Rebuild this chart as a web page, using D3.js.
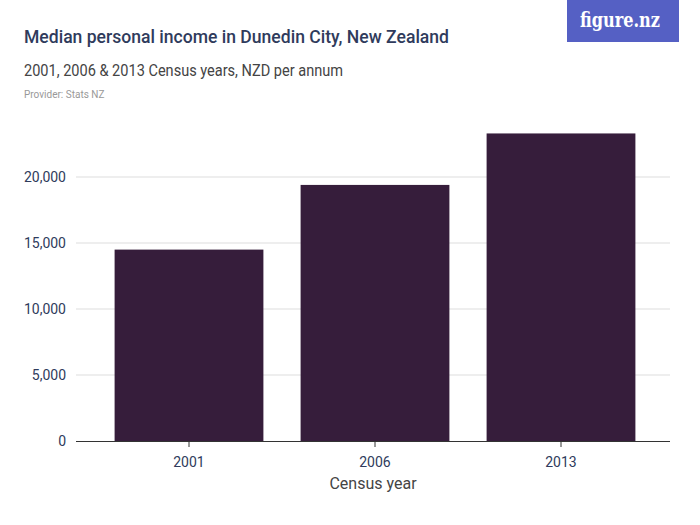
<!DOCTYPE html><html><head><meta charset="utf-8">
<script src="https://cdn.jsdelivr.net/npm/d3@7"></script>
<style>body{margin:0;background:#fff}text{font-family:"Roboto","Liberation Sans",sans-serif}</style></head><body>
<svg id="c" width="700" height="525"></svg>
<script>
const categories=["2001","2006","2013"];
const values=[14500,19400,23300];
const yTicks=[0,5000,10000,15000,20000];
const svg=d3.select("#c");
const m={l:76,r:670,t:110,b:441};
const x=d3.scaleBand().domain(categories).range([96,654]).paddingInner(0.2).paddingOuter(0.1);
const y=d3.scaleLinear().domain([0,20000]).range([441,177]);
svg.append("rect").attr("x",567).attr("y",0).attr("width",112).attr("height",42).attr("fill","#5560c4");
svg.append("text").attr("x",620).attr("y",27).attr("text-anchor","middle").attr("fill","#fff").attr("font-size",20).attr("font-weight","bold").style("font-family","DejaVu Serif, serif").attr("textLength",80).attr("lengthAdjust","spacingAndGlyphs").text("figure.nz");
svg.append("text").attr("x",24).attr("y",43).attr("fill","#2f3b5c").attr("font-size",19).attr("font-weight","500").attr("textLength",425).attr("lengthAdjust","spacingAndGlyphs").text("Median personal income in Dunedin City, New Zealand");
svg.append("text").attr("x",24).attr("y",76).attr("fill","#444").attr("font-size",16).attr("textLength",319).attr("lengthAdjust","spacingAndGlyphs").text("2001, 2006 & 2013 Census years, NZD per annum");
svg.append("text").attr("x",24).attr("y",98).attr("fill","#999").attr("font-size",10).text("Provider: Stats NZ");
yTicks.forEach(t=>{
  if(t>0) svg.append("line").attr("x1",m.l).attr("x2",m.r).attr("y1",y(t)).attr("y2",y(t)).attr("stroke","#ddd");
  svg.append("text").attr("x",66).attr("y",y(t)+5).attr("text-anchor","end").attr("fill","#2f3b5c").attr("font-size",14).text(d3.format(",")(t));
});
svg.selectAll(".bar").data(values).join("rect").attr("x",(d,i)=>x(categories[i])).attr("width",x.bandwidth()).attr("y",d=>y(d)).attr("height",d=>y(0)-y(d)).attr("fill","#361d3b");
svg.append("line").attr("x1",m.l).attr("x2",m.r).attr("y1",441.5).attr("y2",441.5).attr("stroke","#333");
categories.forEach(c=>{
  const cx=x(c)+x.bandwidth()/2;
  svg.append("line").attr("x1",cx).attr("x2",cx).attr("y1",441).attr("y2",447).attr("stroke","#333");
  svg.append("text").attr("x",cx).attr("y",467).attr("text-anchor","middle").attr("fill","#2f3b5c").attr("font-size",14).text(c);
});
svg.append("text").attr("x",373).attr("y",489).attr("text-anchor","middle").attr("fill","#444").attr("font-size",16).text("Census year");
</script></body></html>
